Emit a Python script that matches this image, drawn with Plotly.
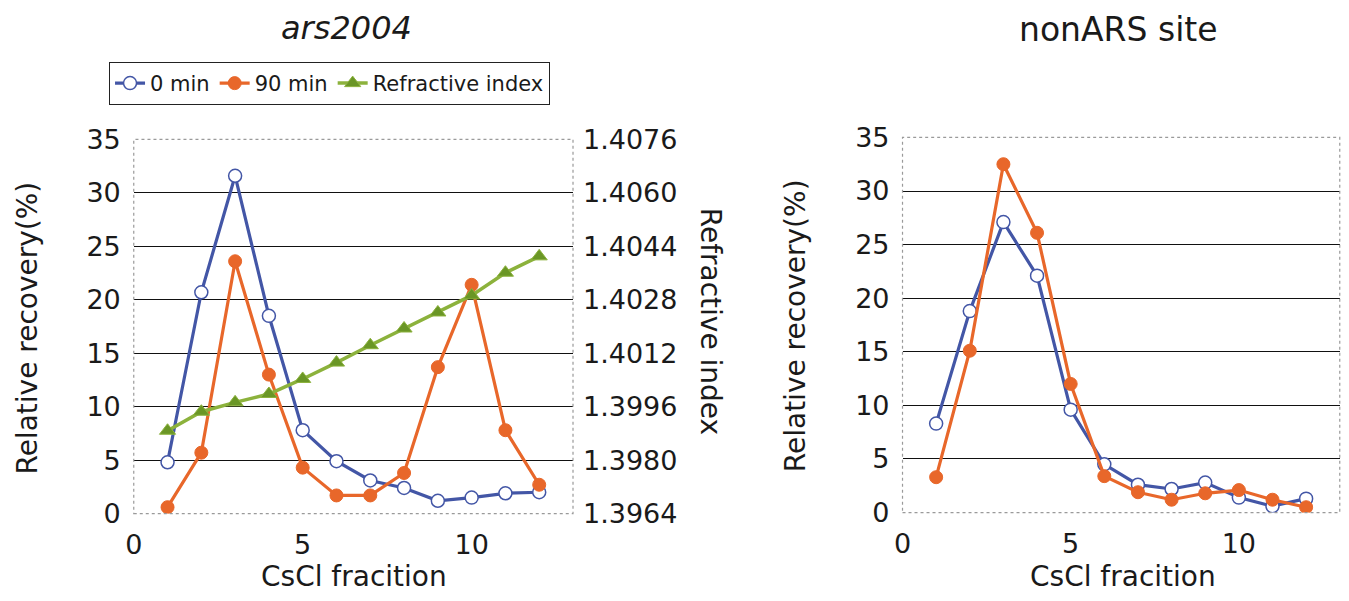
import plotly.graph_objects as go

# ---- data ----
fractions = [1, 2, 3, 4, 5, 6, 7, 8, 9, 10, 11, 12]

ars_0min = [4.8, 20.7, 31.6, 18.5, 7.8, 4.9, 3.1, 2.4, 1.2, 1.5, 1.9, 2.0]
ars_90min = [0.6, 5.7, 23.6, 13.0, 4.3, 1.7, 1.7, 3.8, 13.7, 21.4, 7.8, 2.7]
ars_refractive = [1.39888, 1.39945, 1.39973, 1.39998, 1.40043, 1.40092,
                  1.40144, 1.40194, 1.40242, 1.40293, 1.40361, 1.40410]

non_0min = [8.3, 18.8, 27.1, 22.1, 9.6, 4.5, 2.6, 2.2, 2.8, 1.4, 0.6, 1.3]
non_90min = [3.3, 15.1, 32.5, 26.1, 12.0, 3.4, 1.9, 1.2, 1.8, 2.1, 1.2, 0.5]

y_ticks = [0, 5, 10, 15, 20, 25, 30, 35]
y_grid = [5, 10, 15, 20, 25, 30]
ri_ticks = [1.3964, 1.3980, 1.3996, 1.4012, 1.4028, 1.4044, 1.4060, 1.4076]
x_ticks = [0, 5, 10]

BLUE = "#4356a6"
ORANGE = "#e8672a"
GREEN = "#8cb23c"
GREEN_DARK = "#6a9626"
FONT = "DejaVu Sans, Liberation Sans, sans-serif"
TXT = "#1a1a1a"

fig = go.Figure()

def blue_trace(x, y, xa, ya, show):
    return go.Scatter(x=x, y=y, xaxis=xa, yaxis=ya, name="0 min", mode="lines+markers",
                      line=dict(color=BLUE, width=3.2),
                      marker=dict(symbol="circle", size=13, color="white",
                                  line=dict(color=BLUE, width=1.5)),
                      showlegend=show, legendrank=1)

def orange_trace(x, y, xa, ya, show):
    return go.Scatter(x=x, y=y, xaxis=xa, yaxis=ya, name="90 min", mode="lines+markers",
                      line=dict(color=ORANGE, width=3.2),
                      marker=dict(symbol="circle", size=13, color=ORANGE,
                                  line=dict(color=ORANGE, width=1)),
                      showlegend=show, legendrank=2)

fig.add_trace(go.Scatter(x=fractions, y=ars_refractive, xaxis="x", yaxis="y3",
                         name="Refractive index", mode="lines+markers",
                         line=dict(color=GREEN, width=3.5),
                         marker=dict(symbol="triangle-up", size=14, color=GREEN_DARK,
                                     line=dict(color=GREEN, width=1)),
                         legendrank=3))
fig.add_trace(blue_trace(fractions, ars_0min, "x", "y", True))
fig.add_trace(orange_trace(fractions, ars_90min, "x", "y", True))

fig.add_trace(blue_trace(fractions, non_0min, "x2", "y2", False))
fig.add_trace(orange_trace(fractions, non_90min, "x2", "y2", False))

tickfont = dict(family=FONT, size=27, color=TXT)

xcommon = dict(range=[0, 13], tickvals=x_ticks, showgrid=False, zeroline=False,
               showline=False, tickfont=tickfont, ticks="outside", ticklen=7,
               tickcolor="rgba(0,0,0,0)")
ycommon = dict(range=[0, 35], tickvals=y_ticks, showgrid=False, zeroline=False,
               showline=False, tickfont=tickfont, ticks="", ticklabelstandoff=12,
               minor=dict(tickvals=y_grid, showgrid=True, gridcolor="#111111",
                          gridwidth=1.4, ticks=""))

fig.update_layout(
    width=1349, height=601,
    margin=dict(l=0, r=0, t=0, b=0),
    paper_bgcolor="white", plot_bgcolor="white",
    font=dict(family=FONT, color=TXT),
    xaxis=dict(domain=[0.0931, 0.4209], anchor="y", **xcommon),
    yaxis=dict(domain=[0.1270, 0.7835], anchor="x", **ycommon),
    yaxis3=dict(range=[1.3964, 1.4076], tickvals=ri_ticks, tickformat=".4f",
                overlaying="y", side="right", anchor="x", showgrid=False,
                zeroline=False, showline=False, tickfont=tickfont, ticks="",
                ticklabelstandoff=9),
    xaxis2=dict(domain=[0.6668, 0.9931], anchor="y2", **xcommon),
    yaxis2=dict(domain=[0.1288, 0.7870], anchor="x2", **ycommon),
    legend=dict(orientation="h", x=0.0745, y=0.9197, xanchor="left", yanchor="top",
                bordercolor="#222222", borderwidth=1.2, bgcolor="white",
                font=dict(family=FONT, size=21, color=TXT),
                itemwidth=30, tracegroupgap=0, traceorder="normal"),
    showlegend=True,
)

# dotted light-grey plot frames
for xd, yd in (("x domain", "y domain"), ("x2 domain", "y2 domain")):
    fig.add_shape(type="rect", xref=xd, yref=yd, x0=0, x1=1, y0=0, y1=1,
                  line=dict(color="#9a9a9a", width=1.2, dash="dot"), layer="above")

def ann(text, x, y, size, angle=0):
    return dict(text=text, x=x, y=y, xref="paper", yref="paper", showarrow=False,
                font=dict(family=FONT, size=size, color=TXT), textangle=angle,
                xanchor="center", yanchor="middle")

fig.update_layout(annotations=[
    ann("<i>ars2004</i>", 0.2518, 0.9790, 32),
    ann("nonARS site", 0.8277, 0.9770, 33),
    ann("CsCl fracition", 0.2577, 0.0170, 28),
    ann("CsCl fracition", 0.8314, 0.0170, 28),
    ann("Relative recovery(%)", 0.0142, 0.4517, 28, -90),
    ann("Relative recovery(%)", 0.5871, 0.4570, 28, -90),
    ann("Refractive index", 0.5237, 0.4641, 28, 90),
])

fig.write_html("out.html",
               config={"displayModeBar": False},
               post_script="document.body.style.margin='0px';"
                           "document.documentElement.style.overflow='hidden';")
